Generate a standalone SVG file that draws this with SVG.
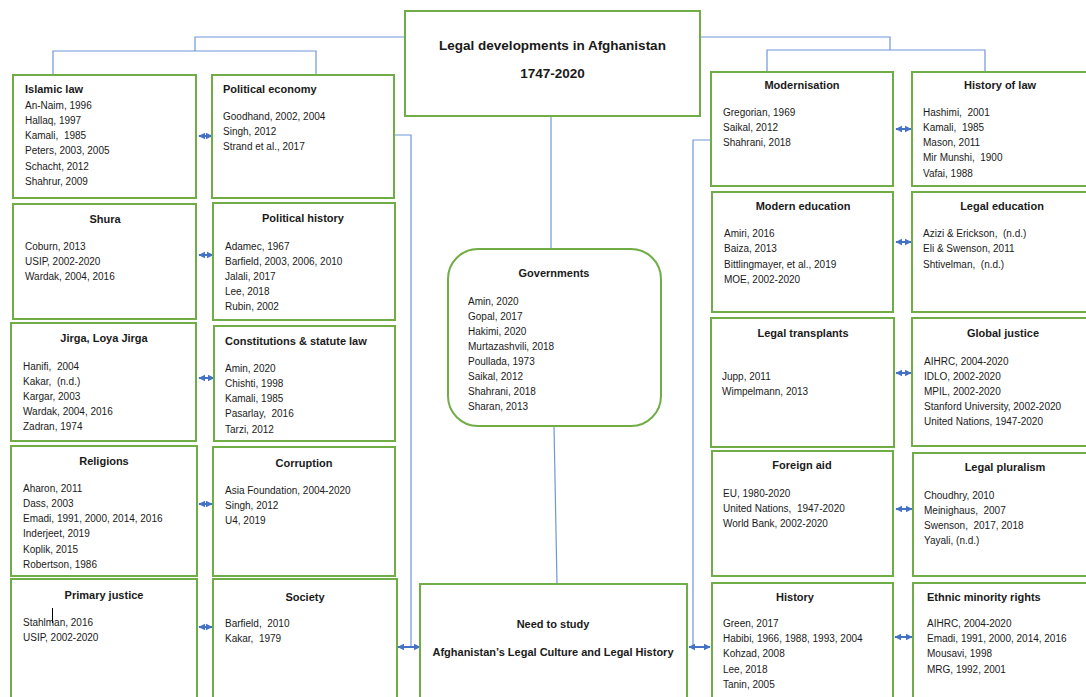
<svg xmlns="http://www.w3.org/2000/svg" width="1086" height="697" viewBox="0 0 1086 697">
<defs>
<style>
.box{fill:#fff;stroke:#70AD47;stroke-width:2}
.t{font-family:"Liberation Sans",Arial,sans-serif;font-size:11px;font-weight:bold;fill:#1a1a1a;white-space:pre}
.c{text-anchor:middle}
.i{font-family:"Liberation Sans",Arial,sans-serif;font-size:10px;fill:#1a1a1a;white-space:pre}
.big{font-family:"Liberation Sans",Arial,sans-serif;font-size:13.5px;font-weight:bold;fill:#1a1a1a;text-anchor:middle}
.con{fill:none;stroke:#6F97D8;stroke-width:1.2}
.arr{fill:none;stroke:#4472C4;stroke-width:2;marker-start:url(#ah);marker-end:url(#ah)}
</style>
<marker id="ah" viewBox="0 0 10 10" refX="9" refY="5" markerWidth="7" markerHeight="9" markerUnits="userSpaceOnUse" orient="auto-start-reverse">
<path d="M0,0 L10,5 L0,10 z" fill="#4472C4"/>
</marker>
</defs>
<rect width="1086" height="697" fill="#fff"/>

<g id="connectors">
<path class="con" d="M405,37 H195 V51"/>
<path class="con" d="M53,75 V51 H316 V75"/>
<path class="con" d="M700,37 H890 V50"/>
<path class="con" d="M767,71 V50 H985 V71"/>
<path class="con" d="M551,117 V249"/>
<path class="con" d="M554,426 L557,584"/>
<path class="con" d="M395,135 H411 V647"/>
<path class="con" d="M711,140 H693 V647"/>
<path class="arr" d="M199,136 H212"/>
<path class="arr" d="M199,255 H213"/>
<path class="arr" d="M199,378 H214"/>
<path class="arr" d="M199,504 H212"/>
<path class="arr" d="M199,627 H212"/>
<path class="arr" d="M398,647 H420"/>
<path class="arr" d="M689,647 H710"/>
<path class="arr" d="M896,129 H911"/>
<path class="arr" d="M896,242 H911"/>
<path class="arr" d="M896,373 H911"/>
<path class="arr" d="M896,509 H912"/>
<path class="arr" d="M895,637 H912"/>
</g>

<g id="title">
<rect class="box" x="405" y="11" width="295" height="105"/>
<text class="big" x="552.5" y="50">Legal developments in Afghanistan</text>
<text class="big" x="552.5" y="78">1747-2020</text>
</g>

<g id="islamic-law">
<rect class="box" x="13" y="75" width="183" height="123"/>
<text class="t" x="25" y="93">Islamic law</text>
<text class="i" x="25" y="109">An-Naim, 1996</text>
<text class="i" x="25" y="124">Hallaq, 1997</text>
<text class="i" x="25" y="139">Kamali,  1985</text>
<text class="i" x="25" y="154">Peters, 2003, 2005</text>
<text class="i" x="25" y="170">Schacht, 2012</text>
<text class="i" x="25" y="185">Shahrur, 2009</text>
</g>

<g id="political-economy">
<rect class="box" x="212" y="75" width="182" height="123"/>
<text class="t" x="223" y="93">Political economy</text>
<text class="i" x="223" y="120">Goodhand, 2002, 2004</text>
<text class="i" x="223" y="135">Singh, 2012</text>
<text class="i" x="223" y="150">Strand et al., 2017</text>
</g>

<g id="shura">
<rect class="box" x="13" y="204" width="183" height="115"/>
<text class="t c" x="105" y="223">Shura</text>
<text class="i" x="25" y="250">Coburn, 2013</text>
<text class="i" x="25" y="265">USIP, 2002-2020</text>
<text class="i" x="25" y="280">Wardak, 2004, 2016</text>
</g>

<g id="political-history">
<rect class="box" x="213" y="203" width="182" height="117"/>
<text class="t c" x="303" y="222">Political history</text>
<text class="i" x="225" y="250">Adamec, 1967</text>
<text class="i" x="225" y="265">Barfield, 2003, 2006, 2010</text>
<text class="i" x="225" y="280">Jalali, 2017</text>
<text class="i" x="225" y="295">Lee, 2018</text>
<text class="i" x="225" y="310">Rubin, 2002</text>
</g>

<g id="jirga">
<rect class="box" x="11" y="323" width="185" height="118"/>
<text class="t c" x="104" y="342">Jirga, Loya Jirga</text>
<text class="i" x="23" y="370">Hanifi,  2004</text>
<text class="i" x="23" y="385">Kakar,  (n.d.)</text>
<text class="i" x="23" y="400">Kargar, 2003</text>
<text class="i" x="23" y="415">Wardak, 2004, 2016</text>
<text class="i" x="23" y="430">Zadran, 1974</text>
</g>

<g id="constitutions">
<rect class="box" x="214" y="326" width="181" height="115"/>
<text class="t" x="225" y="345">Constitutions &amp; statute law</text>
<text class="i" x="225" y="372">Amin, 2020</text>
<text class="i" x="225" y="387">Chishti, 1998</text>
<text class="i" x="225" y="402">Kamali, 1985</text>
<text class="i" x="225" y="417">Pasarlay,  2016</text>
<text class="i" x="225" y="433">Tarzi, 2012</text>
</g>

<g id="religions">
<rect class="box" x="11" y="446" width="186" height="130"/>
<text class="t c" x="104" y="465">Religions</text>
<text class="i" x="23" y="492">Aharon, 2011</text>
<text class="i" x="23" y="507">Dass, 2003</text>
<text class="i" x="23" y="522">Emadi, 1991, 2000, 2014, 2016</text>
<text class="i" x="23" y="537">Inderjeet, 2019</text>
<text class="i" x="23" y="553">Koplik, 2015</text>
<text class="i" x="23" y="568">Robertson, 1986</text>
</g>

<g id="corruption">
<rect class="box" x="213" y="447" width="182" height="129"/>
<text class="t c" x="304" y="467">Corruption</text>
<text class="i" x="225" y="494">Asia Foundation, 2004-2020</text>
<text class="i" x="225" y="509">Singh, 2012</text>
<text class="i" x="225" y="524">U4, 2019</text>
</g>

<g id="primary-justice">
<rect class="box" x="11" y="579" width="186" height="130"/>
<text class="t c" x="104" y="599">Primary justice</text>
<text class="i" x="23" y="626">Stahlman, 2016</text>
<text class="i" x="23" y="641">USIP, 2002-2020</text>
<line x1="52.5" y1="608" x2="52.5" y2="623" stroke="#000" stroke-width="1"/>
</g>

<g id="society">
<rect class="box" x="213" y="579" width="184" height="130"/>
<text class="t c" x="305" y="601">Society</text>
<text class="i" x="225" y="627">Barfield,  2010</text>
<text class="i" x="225" y="642">Kakar,  1979</text>
</g>

<g id="governments">
<rect class="box" x="448" y="249" width="213" height="177" rx="30" ry="30"/>
<text class="t c" x="554" y="277">Governments</text>
<text class="i" x="468" y="305">Amin, 2020</text>
<text class="i" x="468" y="320">Gopal, 2017</text>
<text class="i" x="468" y="335">Hakimi, 2020</text>
<text class="i" x="468" y="350">Murtazashvili, 2018</text>
<text class="i" x="468" y="365">Poullada, 1973</text>
<text class="i" x="468" y="380">Saikal, 2012</text>
<text class="i" x="468" y="395">Shahrani, 2018</text>
<text class="i" x="468" y="410">Sharan, 2013</text>
</g>

<g id="need-to-study">
<rect class="box" x="420" y="584" width="267" height="130"/>
<text class="t c" x="553" y="628">Need to study</text>
<text class="t c" x="553" y="656">Afghanistan’s Legal Culture and Legal History</text>
</g>

<g id="modernisation">
<rect class="box" x="711" y="72" width="182" height="114"/>
<text class="t c" x="802" y="89">Modernisation</text>
<text class="i" x="723" y="116">Gregorian, 1969</text>
<text class="i" x="723" y="131">Saikal, 2012</text>
<text class="i" x="723" y="146">Shahrani, 2018</text>
</g>

<g id="history-of-law">
<rect class="box" x="912" y="72" width="185" height="114"/>
<text class="t c" x="1000" y="89">History of law</text>
<text class="i" x="923" y="116">Hashimi,  2001</text>
<text class="i" x="923" y="131">Kamali,  1985</text>
<text class="i" x="923" y="146">Mason, 2011</text>
<text class="i" x="923" y="161">Mir Munshi,  1900</text>
<text class="i" x="923" y="177">Vafai, 1988</text>
</g>

<g id="modern-education">
<rect class="box" x="712" y="192" width="181" height="120"/>
<text class="t c" x="803" y="210">Modern education</text>
<text class="i" x="724" y="237">Amiri, 2016</text>
<text class="i" x="724" y="252">Baiza, 2013</text>
<text class="i" x="724" y="268">Bittlingmayer, et al., 2019</text>
<text class="i" x="724" y="283">MOE, 2002-2020</text>
</g>

<g id="legal-education">
<rect class="box" x="912" y="192" width="185" height="120"/>
<text class="t c" x="1002" y="210">Legal education</text>
<text class="i" x="923" y="237">Azizi &amp; Erickson,  (n.d.)</text>
<text class="i" x="923" y="252">Eli &amp; Swenson, 2011</text>
<text class="i" x="923" y="268">Shtivelman,  (n.d.)</text>
</g>

<g id="legal-transplants">
<rect class="box" x="711" y="318" width="183" height="129"/>
<text class="t c" x="803" y="337">Legal transplants</text>
<text class="i" x="722" y="380">Jupp, 2011</text>
<text class="i" x="722" y="395">Wimpelmann, 2013</text>
</g>

<g id="global-justice">
<rect class="box" x="912" y="318" width="185" height="128"/>
<text class="t c" x="1003" y="337">Global justice</text>
<text class="i" x="924" y="365">AIHRC, 2004-2020</text>
<text class="i" x="924" y="380">IDLO, 2002-2020</text>
<text class="i" x="924" y="395">MPIL, 2002-2020</text>
<text class="i" x="924" y="410">Stanford University, 2002-2020</text>
<text class="i" x="924" y="425">United Nations, 1947-2020</text>
</g>

<g id="foreign-aid">
<rect class="box" x="712" y="451" width="181" height="125"/>
<text class="t c" x="802" y="469">Foreign aid</text>
<text class="i" x="723" y="497">EU, 1980-2020</text>
<text class="i" x="723" y="512">United Nations,  1947-2020</text>
<text class="i" x="723" y="527">World Bank, 2002-2020</text>
</g>

<g id="legal-pluralism">
<rect class="box" x="913" y="453" width="185" height="123"/>
<text class="t c" x="1005" y="471">Legal pluralism</text>
<text class="i" x="924" y="499">Choudhry, 2010</text>
<text class="i" x="924" y="514">Meinighaus,  2007</text>
<text class="i" x="924" y="529">Swenson,  2017, 2018</text>
<text class="i" x="924" y="544">Yayali, (n.d.)</text>
</g>

<g id="history">
<rect class="box" x="712" y="583" width="181" height="130"/>
<text class="t c" x="795" y="601">History</text>
<text class="i" x="723" y="627">Green, 2017</text>
<text class="i" x="723" y="642">Habibi, 1966, 1988, 1993, 2004</text>
<text class="i" x="723" y="657">Kohzad, 2008</text>
<text class="i" x="723" y="673">Lee, 2018</text>
<text class="i" x="723" y="688">Tanin, 2005</text>
</g>

<g id="ethnic-minority-rights">
<rect class="box" x="913" y="583" width="185" height="130"/>
<text class="t" x="927" y="601">Ethnic minority rights</text>
<text class="i" x="927" y="627">AIHRC, 2004-2020</text>
<text class="i" x="927" y="642">Emadi, 1991, 2000, 2014, 2016</text>
<text class="i" x="927" y="657">Mousavi, 1998</text>
<text class="i" x="927" y="673">MRG, 1992, 2001</text>
</g>
</svg>
